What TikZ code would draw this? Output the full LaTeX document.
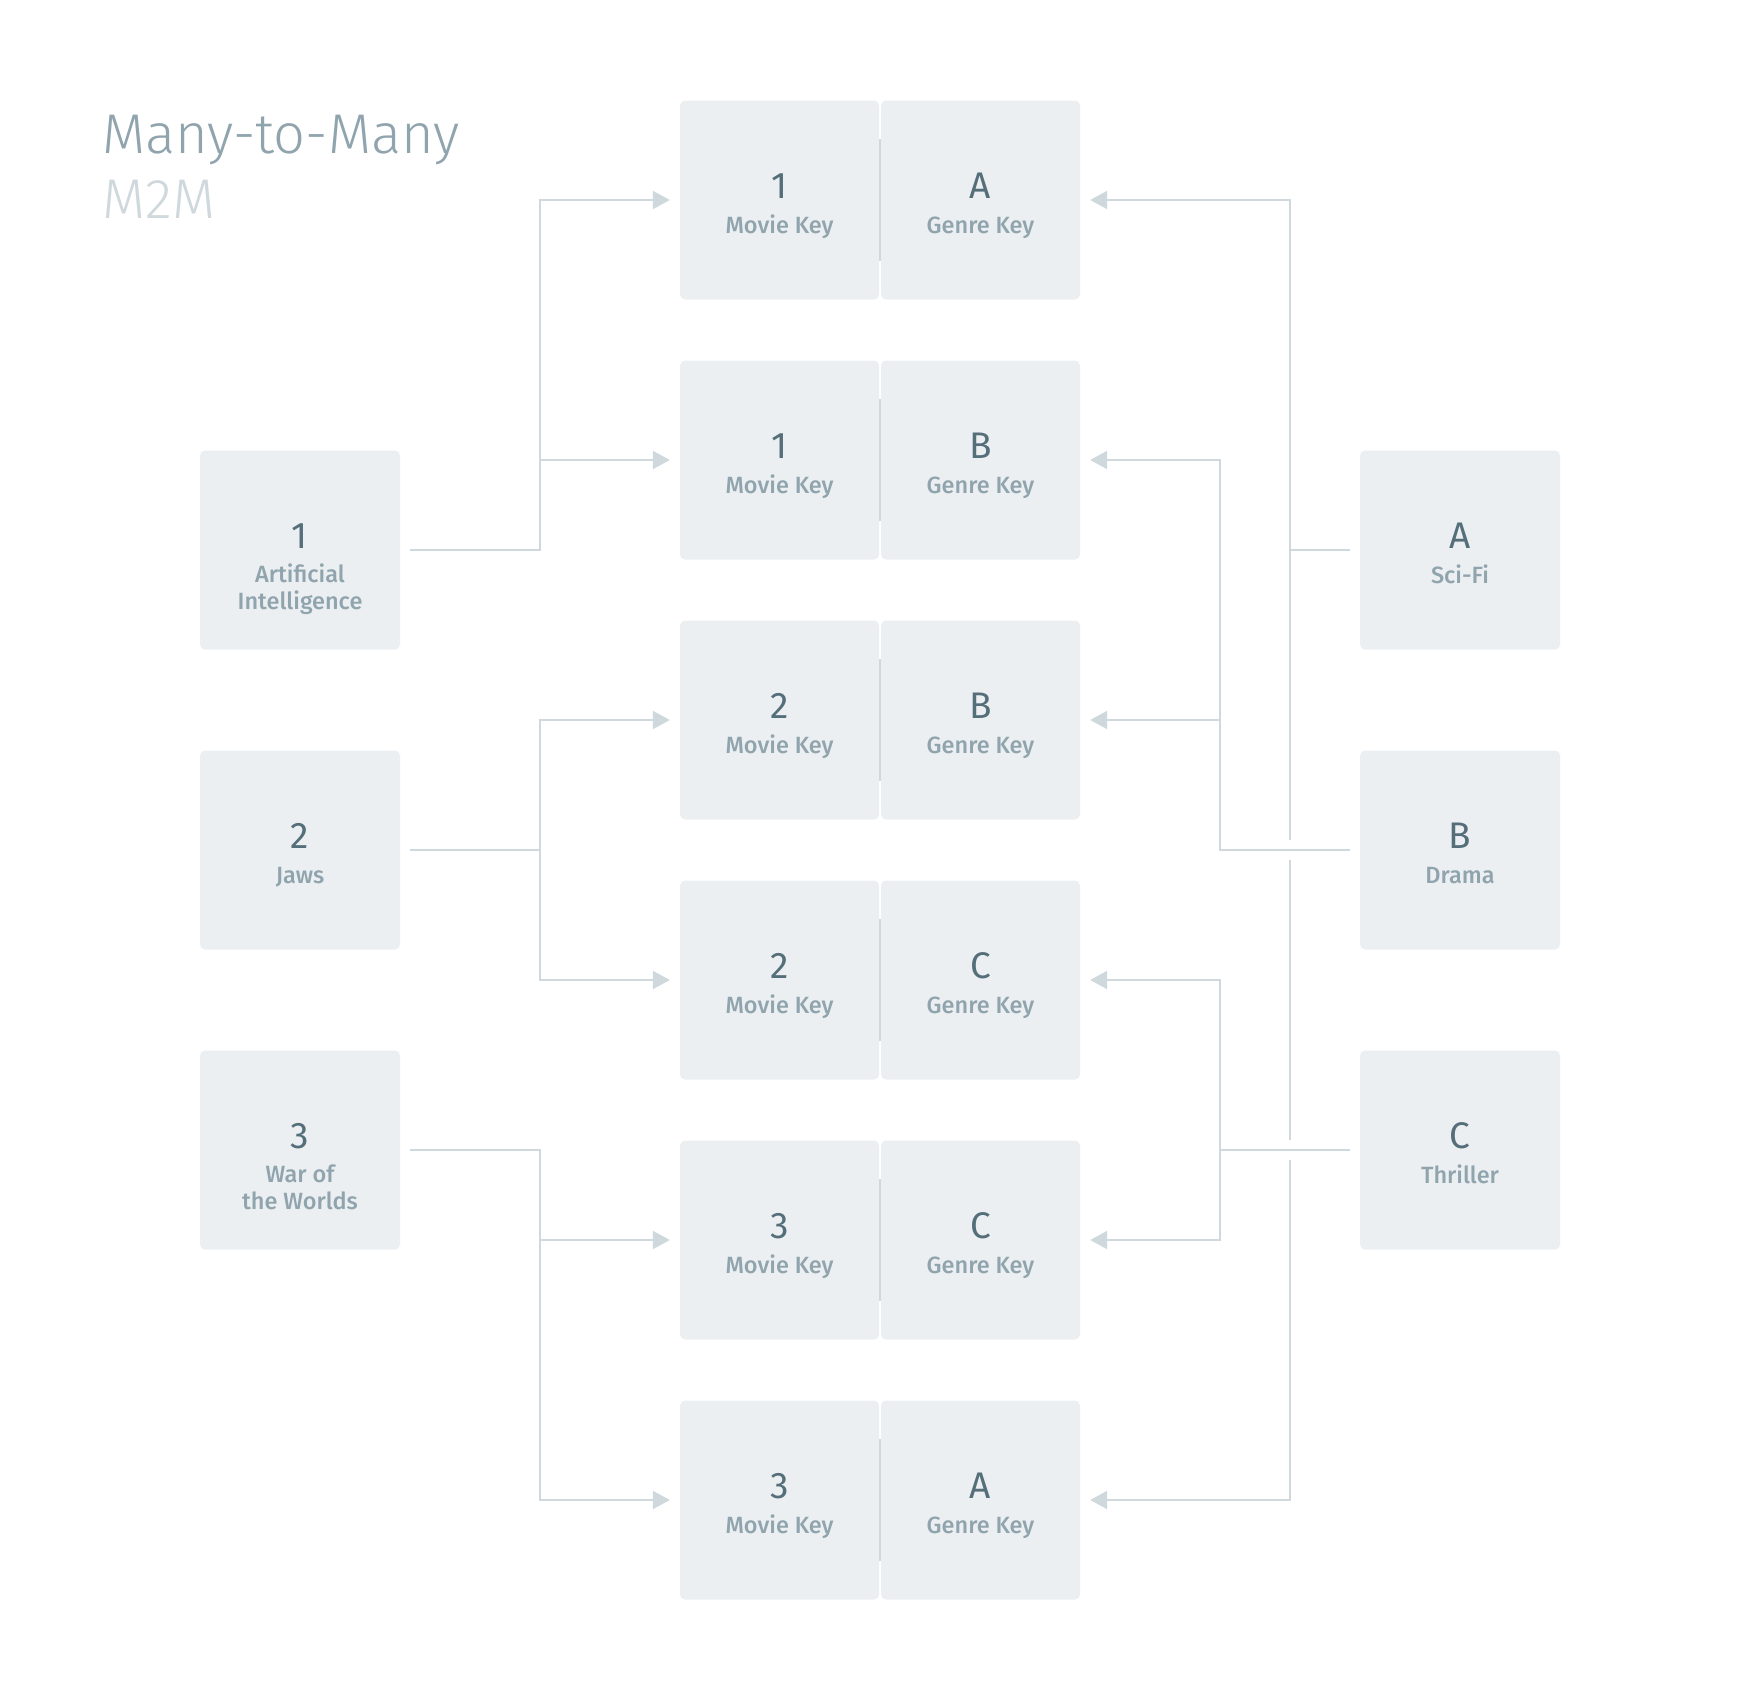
\documentclass[tikz,border=0pt]{standalone}
\usepackage{fontspec}
\setmainfont{Fira Sans}
\newfontfamily\titlefont{Fira Sans}[UprightFont={* Light}]
\newfontfamily\labelfont{Fira Sans}[UprightFont={* Medium}]
\usetikzlibrary{arrows.meta,calc}

\definecolor{boxfill}{HTML}{ECEFF1}
\definecolor{linecol}{HTML}{CFD8DC}
\definecolor{numcol}{HTML}{546E7A}
\definecolor{lblcol}{HTML}{90A4AE}
\definecolor{headcol}{HTML}{90A4AE}
\definecolor{subcol}{HTML}{CFD8DC}

\tikzset{
  box/.style={fill=boxfill, draw=none, rounded corners=5pt, minimum width=199pt, minimum height=199pt, inner sep=0pt},
  sidebox/.style={box, minimum width=200pt, minimum height=199pt},
  num/.style={anchor=base, inner sep=0pt, text=numcol, font=\fontsize{37}{37}\selectfont},
  lbl/.style={anchor=base, inner sep=0pt, text=lblcol, font=\labelfont\fontsize{23.5}{23.5}\selectfont},
  link/.style={draw=linecol, line width=2pt},
  arr/.style={link, -{Triangle[length=17pt,width=18pt]}},
  sepline/.style={draw=linecol, line width=2pt},
  heading/.style={anchor=base west, inner sep=0pt, font=\titlefont\fontsize{56}{56}\selectfont},
}

\begin{document}
\begin{tikzpicture}[x=1pt,y=1pt]
  % page frame
  \fill[white] (0,0) rectangle (1760,-1700);
  \useasboundingbox (0,0) rectangle (1760,-1700);

  % heading
  \node[heading, text=headcol] (title) at (102,-153) {Many-to-Many};
  \node[heading, text=subcol] (subtitle) at (102,-218) {M2M};

  % junction table rows
  \foreach \i/\yy/\mk/\gk in {1/200/1/A, 2/460/1/B, 3/720/2/B, 4/980/2/C, 5/1240/3/C, 6/1500/3/A} {
    \node[box] (K\i) at (779.5,-\yy) {};
    \node[box] (G\i) at (980.5,-\yy) {};
    \draw[sepline] ($(K\i.east)!0.5!(G\i.west)+(0,61)$) -- ($(K\i.east)!0.5!(G\i.west)+(0,-61)$);
    \node[num] (Kn\i) at ($(K\i.center)+(0,2)$) {\mk};
    \node[lbl] (Kl\i) at ($(K\i.center)+(0,-33)$) {Movie Key};
    \node[num] (Gn\i) at ($(G\i.center)+(0,2)$) {\gk};
    \node[lbl] (Gl\i) at ($(G\i.center)+(0,-33)$) {Genre Key};
  }

  % movies
  \node[sidebox] (m1) at (300,-550) {};
  \node[sidebox] (m2) at (300,-850) {};
  \node[sidebox] (m3) at (300,-1150) {};
  \node[num] (m1n) at ($(m1.center)+(0,2)$) {1};
  \node[lbl] (m1a) at ($(m1.center)+(0,-32)$) {Artificial};
  \node[lbl] (m1b) at ($(m1.center)+(0,-59)$) {Intelligence};
  \node[num] (m2n) at ($(m2.center)+(0,2)$) {2};
  \node[lbl] (m2a) at ($(m2.center)+(0,-33)$) {Jaws};
  \node[num] (m3n) at ($(m3.center)+(0,2)$) {3};
  \node[lbl] (m3a) at ($(m3.center)+(0,-32)$) {War of};
  \node[lbl] (m3b) at ($(m3.center)+(0,-59)$) {the Worlds};

  % genres
  \node[sidebox] (g1) at (1460,-550) {};
  \node[sidebox] (g2) at (1460,-850) {};
  \node[sidebox] (g3) at (1460,-1150) {};
  \node[num] (g1n) at ($(g1.center)+(0,2)$) {A};
  \node[lbl] (g1a) at ($(g1.center)+(0,-33)$) {Sci-Fi};
  \node[num] (g2n) at ($(g2.center)+(0,2)$) {B};
  \node[lbl] (g2a) at ($(g2.center)+(0,-33)$) {Drama};
  \node[num] (g3n) at ($(g3.center)+(0,2)$) {C};
  \node[lbl] (g3a) at ($(g3.center)+(0,-33)$) {Thriller};

  % connector columns
  \coordinate (lj) at (540,0);
  \coordinate (rjA) at (1290,0);
  \coordinate (rjB) at (1220,0);

  % movie -> junction rows
  \draw[arr] ([xshift=10pt]m1.east) -| (lj |- K1.west) -- ([xshift=-10pt]K1.west);
  \draw[arr] (lj |- m1.east) |- ([xshift=-10pt]K2.west);
  \draw[arr] ([xshift=10pt]m2.east) -| (lj |- K3.west) -- ([xshift=-10pt]K3.west);
  \draw[arr] (lj |- m2.east) |- ([xshift=-10pt]K4.west);
  \draw[arr] ([xshift=10pt]m3.east) -| (lj |- K5.west) -- ([xshift=-10pt]K5.west);
  \draw[arr] (lj |- m3.east) |- ([xshift=-10pt]K6.west);

  % genre B -> junction rows
  \draw[arr] ([xshift=-10pt]g2.west) -| (rjB |- G2.east) -- ([xshift=10pt]G2.east);
  \draw[arr] (rjB |- G3.east) -- ([xshift=10pt]G3.east);

  % genre C -> junction rows
  \draw[arr] ([xshift=-10pt]g3.west) -| (rjB |- G4.east) -- ([xshift=10pt]G4.east);
  \draw[arr] (rjB |- g3.west) |- ([xshift=10pt]G5.east);

  % genre A -> junction rows, hopping over the B and C feeds
  \draw[arr] ([xshift=-10pt]g1.west) -| (rjA |- G1.east) -- ([xshift=10pt]G1.east);
  \draw[link] (rjA |- g1.west) -- ($(rjA |- g2.west)+(0,10)$);
  \draw[link] ($(rjA |- g2.west)+(0,-10)$) -- ($(rjA |- g3.west)+(0,10)$);
  \draw[arr] ($(rjA |- g3.west)+(0,-10)$) |- ([xshift=10pt]G6.east);
\end{tikzpicture}
\end{document}
